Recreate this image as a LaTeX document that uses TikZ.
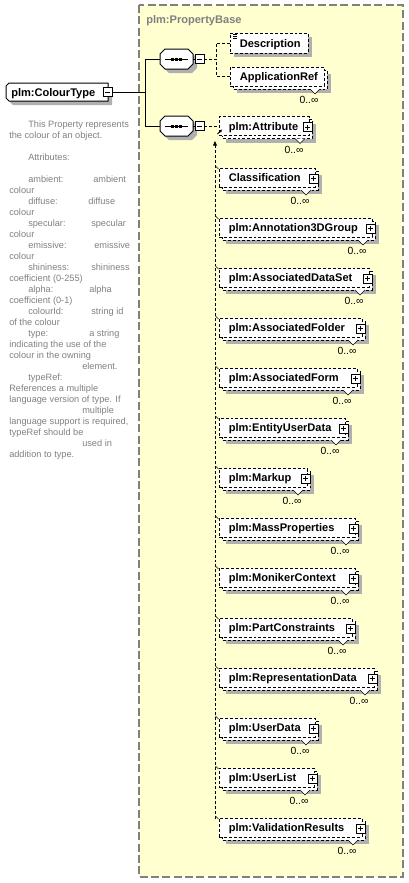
\documentclass[tikz,border=0pt]{standalone}
\usepackage{fontspec}
\setmainfont{Liberation Sans}
\usetikzlibrary{arrows.meta}
\definecolor{ybg}{RGB}{255,255,208}
\definecolor{shd}{RGB}{176,176,176}
\definecolor{gtx}{RGB}{128,128,128}
\tikzset{
  lbl/.style={font=\fontsize{8.3}{10}\selectfont\bfseries, inner sep=0pt, anchor=base west},
  ttl/.style={lbl, text=gtx},
  dtx/.style={font=\fontsize{6.9}{8}\selectfont, text=gtx, inner sep=0pt, anchor=base west},
  occ/.style={font=\fontsize{7.8}{9}\selectfont, inner sep=0pt, anchor=base},
  dsh/.style={line width=0.7pt, dash pattern=on 2.2pt off 1.5pt},
  ebox/.style={draw, dsh, fill=white, inner sep=0pt, minimum height=14.25pt},
  sbox/.style={draw, line width=0.6pt, fill=white, inner sep=0pt, minimum size=6.75pt},
  conn/.style={line width=0.75pt},
  cdsh/.style={line width=0.7pt, dash pattern=on 2.2pt off 1.5pt},
  ybord/.style={draw=gtx, line width=0.8pt, dash pattern=on 6pt off 2.5pt},
  tick/.style={line width=0.5pt},
}
\begin{document}
\begin{tikzpicture}[x=0.75pt,y=-0.75pt]
\useasboundingbox (0,0) rectangle (408,883);
% background group
\draw[ybord, fill=ybg] (139,5) rectangle (403,877);
\node[ttl] (pbt) at (146,23) {plm:PropertyBase};

% ColourType
\fill[shd] (13,87) -- (112,87) -- (112,105) -- (13,105) -- (10,102) -- (10,90) -- cycle;
\draw[conn, fill=white] (9,83) -- (108,83) -- (108,101) -- (9,101) -- (6,98) -- (6,86) -- cycle;
\node[lbl] (ct) at (11,96) {plm:ColourType};
\node[sbox] (ctm) at (107.5,92) {};
\draw[line width=0.6pt] (105,92) -- (110,92);

% sequence 1
\fill[shd] (169,53) -- (192,53) -- (197,58) -- (197,68) -- (192,73) -- (169,73) -- (164,68) -- (164,58) -- cycle;
\draw[conn, fill=white] (165,49) -- (188,49) -- (193,54) -- (193,64) -- (188,69) -- (165,69) -- (160,64) -- (160,54) -- cycle;
\node[inner sep=0pt, minimum width=24.75pt, minimum height=15pt] (s1) at (176.5,59) {};
\draw[conn] (165,59) -- (188,59);
\foreach \q in {172.5,176.5,180.5} \fill (\q-1.5,57.5) rectangle +(3,3);
\node[sbox] (s1m) at (199.5,59) {};
\draw[line width=0.6pt] (197,59) -- (202,59);
\draw[conn] (s1.east) -- (s1m.west);

% sequence 2
\fill[shd] (169,120) -- (192,120) -- (197,125) -- (197,135) -- (192,140) -- (169,140) -- (164,135) -- (164,125) -- cycle;
\draw[conn, fill=white] (165,116) -- (188,116) -- (193,121) -- (193,131) -- (188,136) -- (165,136) -- (160,131) -- (160,121) -- cycle;
\node[inner sep=0pt, minimum width=24.75pt, minimum height=15pt] (s2) at (176.5,126) {};
\draw[conn] (165,126) -- (188,126);
\foreach \q in {172.5,176.5,180.5} \fill (\q-1.5,124.5) rectangle +(3,3);
\node[sbox] (s2m) at (199.5,126) {};
\draw[line width=0.6pt] (197,126) -- (202,126);
\draw[conn] (s2.east) -- (s2m.west);

% trunk
\coordinate (j) at (145,92);
\draw[conn] (ctm.east) -- (j);
\draw[conn] (s1.west) -| (j);
\draw[conn] (s2.west) -| (j);

% Description
\fill[shd] (234,37) rectangle (312,57);
\node[ebox, minimum width=58.5pt, minimum height=15pt] (desc) at (269,43) {};
\node[lbl] (desct) at (239.5,47) {Description};
\draw[line width=0.5pt] (233,34.5) -- (237,34.5) (233,36.5) -- (237,36.5) (233,38.5) -- (237,38.5);

% ApplicationRef
\fill[shd] (237,74) rectangle (331,93);
\draw[dsh, fill=white] (233,70) rectangle (327,89);
\node[ebox, minimum width=70.5pt] (appr) at (277,76.5) {};
\node[lbl] (apprt) at (239.5,80.5) {ApplicationRef};
\draw[line width=0.5pt, fill=white] (310,89) -- (315,94) -- (320,89);
\node[occ] (appro) at (309,103.5) {0..∞};

\coordinate (k1) at (216,59);
\draw[cdsh] (s1m.east) -- (k1);
\draw[cdsh] (desc.west) -| (k1);
\draw[cdsh] (appr.west) -| (k1);

% children
\foreach \nm/\txt/\cy/\R in {
  attr/plm:Attribute/127.5/312,
  cls/Classification/179/318,
  ann/plm:Annotation3DGroup/229/375,
  ads/plm:AssociatedDataSet/279/372,
  afo/plm:AssociatedFolder/329/365,
  afm/plm:AssociatedForm/379/360,
  eud/plm:EntityUserData/429/348,
  mku/plm:Markup/479/310,
  mas/plm:MassProperties/529/358,
  mon/plm:MonikerContext/579/358,
  pcn/plm:PartConstraints/629/355,
  rep/plm:RepresentationData/679/377,
  usd/plm:UserData/729/318,
  usl/plm:UserList/779/317,
  val/plm:ValidationResults/829/365}{
  \fill[shd] (226,\cy-4) rectangle (\R+4,\cy+15);
  \draw[dsh, fill=white] (222,\cy-8) rectangle (\R,\cy+11);
  \node[ebox, minimum width={(\R-222)*0.75pt}] (\nm) at ({(\R+216)/2},\cy-1.5) {};
  \node[lbl] (\nm-t) at (228.5,\cy+2.5) {\txt};
  \node[sbox] (\nm-p) at (\R-4.5,\cy-0.5) {};
  \draw[line width=0.6pt] (\R-7,\cy-0.5) -- (\R-2,\cy-0.5) (\R-4.5,\cy-3) -- (\R-4.5,\cy+2);
  \draw[line width=0.5pt, fill=white] (\R-17,\cy+11) -- (\R-12,\cy+16) -- (\R-7,\cy+11);
  \node[occ] (\nm-o) at (\R-18,\cy+25.5) {0..∞};
}

\draw[cdsh] (s2m.east) -- (attr.west);

% vertical derivation line
\coordinate (vb) at (215,819);
\coordinate (vt) at (215,141);
\draw[cdsh, -{Triangle[length=3.5pt,width=3pt]}] (vb) -- (vt);
\foreach \cy in {179,229,279,329,379,429,479,529,579,629,679,729,779,829}
  \draw[tick] (215.5,\cy-13) -- (218.5,\cy-10);
\draw[line width=0.6pt, -{Triangle[length=2.2pt,width=2.2pt]}] (217.5,134) -- (222,129.5);

% documentation text
\node[dtx] (d1) at (28,127) {This Property represents};
\node[dtx] (d2) at (9,138) {the colour of an object.};
\node[dtx] (d3) at (28,160) {Attributes:};
\node[dtx] (d4) at (28,182) {ambient:};
\node[dtx] (d4b) at (93,182) {ambient};
\node[dtx] (d5) at (9,193) {colour};
\node[dtx] (d6) at (28,204) {diffuse:};
\node[dtx] (d6b) at (88,204) {diffuse};
\node[dtx] (d7) at (9,215) {colour};
\node[dtx] (d8) at (28,226) {specular:};
\node[dtx] (d8b) at (91,226) {specular};
\node[dtx] (d9) at (9,237) {colour};
\node[dtx] (d10) at (28,248) {emissive:};
\node[dtx] (d10b) at (94,248) {emissive};
\node[dtx] (d11) at (9,259) {colour};
\node[dtx] (d12) at (28,270) {shininess:};
\node[dtx] (d12b) at (91,270) {shininess};
\node[dtx] (d13) at (9,281) {coefficient (0-255)};
\node[dtx] (d14) at (28,292) {alpha:};
\node[dtx] (d14b) at (89,292) {alpha};
\node[dtx] (d15) at (9,303) {coefficient (0-1)};
\node[dtx] (d16) at (28,314) {colourId:};
\node[dtx] (d16b) at (91,314) {string id};
\node[dtx] (d17) at (9,325) {of the colour};
\node[dtx] (d18) at (28,336) {type:};
\node[dtx] (d18b) at (89,336) {a string};
\node[dtx] (d19) at (9,347) {indicating the use of the};
\node[dtx] (d20) at (9,358) {colour in the owning};
\node[dtx] (d21) at (82,369) {element.};
\node[dtx] (d22) at (28,380) {typeRef:};
\node[dtx] (d23) at (9,391) {References a multiple};
\node[dtx] (d24) at (9,402) {language version of type. If};
\node[dtx] (d25) at (82,413) {multiple};
\node[dtx] (d26) at (9,424) {language support is required,};
\node[dtx] (d27) at (9,435) {typeRef should be};
\node[dtx] (d28) at (82,446) {used in};
\node[dtx] (d29) at (9,457) {addition to type.};
\end{tikzpicture}
\end{document}
